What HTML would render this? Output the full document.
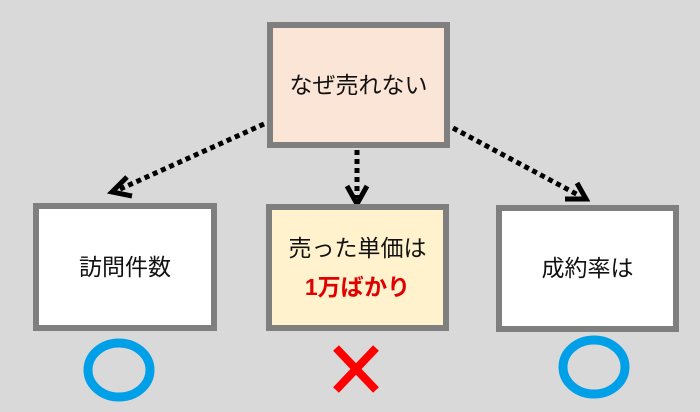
<!DOCTYPE html>
<html><head><meta charset="utf-8"><style>
body{margin:0;width:700px;height:412px;background:#d9d9d9;position:relative;overflow:hidden;font-family:"Liberation Sans","Noto Sans CJK JP",sans-serif;}
.b{position:absolute;box-sizing:border-box;border:6px solid #7f7f7f;display:flex;flex-direction:column;align-items:center;justify-content:center;font-size:23px;color:#111;line-height:39px;}
</style></head><body>
<svg width="700" height="412" style="position:absolute;left:0;top:0">
<g stroke="#000" stroke-width="5" fill="none">
<line x1="264" y1="124" x2="118" y2="190" stroke-dasharray="5 4"/>
<polyline points="127,177 112,192 132,196" stroke-linejoin="miter"/>
<line x1="357" y1="150" x2="357" y2="198" stroke-dasharray="5 4"/>
<polyline points="347,186 357,204 367,186"/>
<line x1="453" y1="128" x2="580" y2="196" stroke-dasharray="5 4"/>
<polyline points="565,199 586,199 577,183"/>
</g>
<ellipse cx="119" cy="370" rx="31" ry="27" fill="none" stroke="#00a0e9" stroke-width="9"/>
<ellipse cx="594" cy="367" rx="31" ry="27" fill="none" stroke="#00a0e9" stroke-width="9"/>
<g stroke="#ff0000" stroke-width="8"><line x1="336" y1="348" x2="376" y2="390"/><line x1="376" y1="348" x2="336" y2="390"/></g>
</svg>
<div class="b" style="left:267px;top:22px;width:183px;height:126px;background:#fbe5d6">なぜ売れない</div>
<div class="b" style="left:33px;top:203px;width:184px;height:128px;background:#fff">訪問件数</div>
<div class="b" style="left:266px;top:204px;width:183px;height:127px;background:#fff2cc"><div>売った単価は</div><div style="color:#e00000;font-weight:bold">1万ばかり</div></div>
<div class="b" style="left:496px;top:205px;width:183px;height:127px;background:#fff">成約率は</div>
</body></html>
